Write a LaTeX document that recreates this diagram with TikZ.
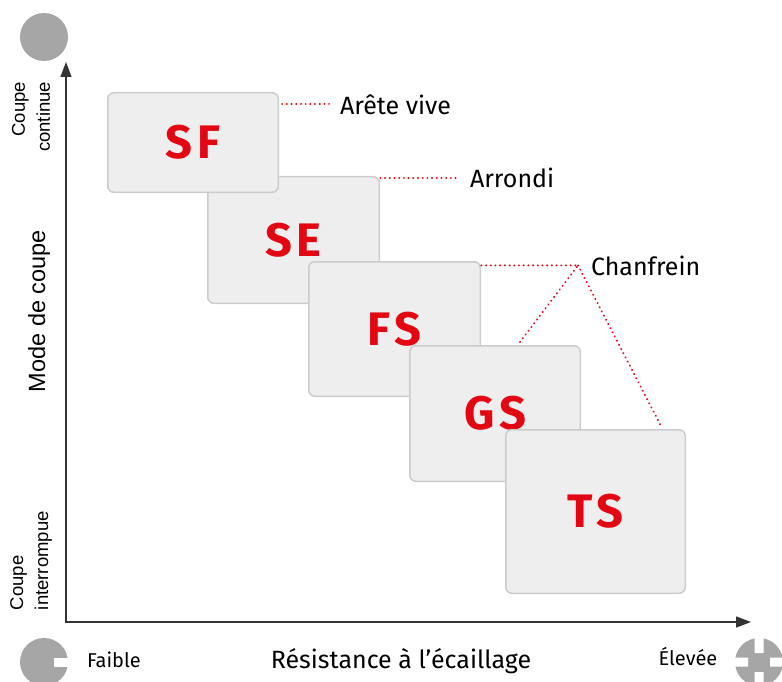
\documentclass[tikz,border=0pt]{standalone}
\usepackage{fontspec}
\setmainfont{Fira Sans}
\newfontfamily\arialfont{Liberation Sans}
\usetikzlibrary{arrows.meta}
\definecolor{cutred}{RGB}{227,6,19}
\definecolor{boxfill}{RGB}{238,238,238}
\definecolor{boxline}{RGB}{204,204,204}
\definecolor{icongray}{RGB}{166,166,166}
\definecolor{axisgray}{RGB}{51,51,51}
\begin{document}
\begin{tikzpicture}
	[x=1pt,y=-1pt,
	every node/.style={inner sep=0pt,outer sep=0},
	insertbox/.style={draw=boxline,fill=boxfill,line width=1.5pt,rounded corners=6pt,
		text=cutred,font=\fontsize{47}{50}\selectfont\bfseries\addfontfeatures{LetterSpace=10}},
	cutlabel/.style={font=\fontsize{25}{30}\selectfont},
	endlabel/.style={font=\fontsize{20}{24}\selectfont},
	sidelabel/.style={rotate=90,font=\arialfont\fontsize{18.5}{25}\selectfont},
	leader/.style={draw=cutred,line width=2pt,line cap=round,dash pattern=on 0.2pt off 4.5pt},
	axisline/.style={axisgray,line width=1.3pt,
		{Triangle[length=15pt,width=11pt]}-{Triangle[length=15pt,width=11pt]}}]
	\useasboundingbox (0,0) rectangle (782,682);
	\fill[icongray] (44,37) circle (24pt);
	\fill[icongray] (44,662) circle (24pt);
	\fill[white] (54,658) rectangle (70,667);
	\fill[icongray] (759,662) circle (24pt);
	\fill[white] (754.5,636) rectangle (763.5,653) (754.5,672) rectangle (763.5,690)
	(733,657.5) rectangle (748,666.5) (770,657.5) rectangle (786,666.5);
	\coordinate (ytip)   at (66,62);
	\coordinate (origin) at (66,622);
	\coordinate (xtip)   at (751,622);
	\draw[axisline] (ytip) -- (origin) -- (xtip);
	\node[insertbox,minimum width=171.5pt,minimum height=126.5pt] (se) at (293.5,240)   {SE};
	\node[insertbox,minimum width=170.5pt,minimum height=99.5pt]  (sf) at (193,142.5)   {SF};
	\node[insertbox,minimum width=171.5pt,minimum height=134.5pt] (fs) at (394.5,329)   {FS};
	\node[insertbox,minimum width=170.5pt,minimum height=135.5pt] (gs) at (495,413.5)   {GS};
	\node[insertbox,minimum width=179.5pt,minimum height=163.5pt] (ts) at (595.5,511.5) {TS};
	\node[cutlabel,anchor=base west] (arete)     at (340,115) {Arête vive};
	\node[cutlabel,anchor=base west] (arrondi)   at (470,188) {Arrondi};
	\node[cutlabel,anchor=base west] (chanfrein) at (591,275) {Chanfrein};
	\coordinate (sfcorner) at (282,104);
	\coordinate (apex)  at ([xshift=-13pt]chanfrein.west);
	\coordinate (gstop) at (520,342);
	\coordinate (tstop) at (661,426);
	\draw[leader] (sfcorner) -- ([xshift=-11pt]sfcorner -| arete.west);
	\draw[leader] ([xshift=1pt]se.east |- arrondi.west) -- ([xshift=-12pt]arrondi.west);
	\draw[leader] ([xshift=1pt]fs.east |- apex) -- (apex) -- (gstop) (apex) -- (tstop);
	\node[endlabel,anchor=base west] (faible) at (87,667)  {Faible};
	\node[endlabel,anchor=base]      (elevee) at (688,665) {Élevée};
	\node[cutlabel,anchor=base] (resistance) at (401,668) {Résistance à l’écaillage};
	\node[sidelabel,font=\arialfont\fontsize{23.5}{28}\selectfont] (mode) at (39,311) {Mode de coupe};
	\node[sidelabel,align=right,anchor=east] (continue)   at (31,82)  {Coupe\\continue};
	\node[sidelabel,align=left,anchor=west]  (interrompue) at (31,610) {Coupe\\interrompue};
\end{tikzpicture}
\end{document}
